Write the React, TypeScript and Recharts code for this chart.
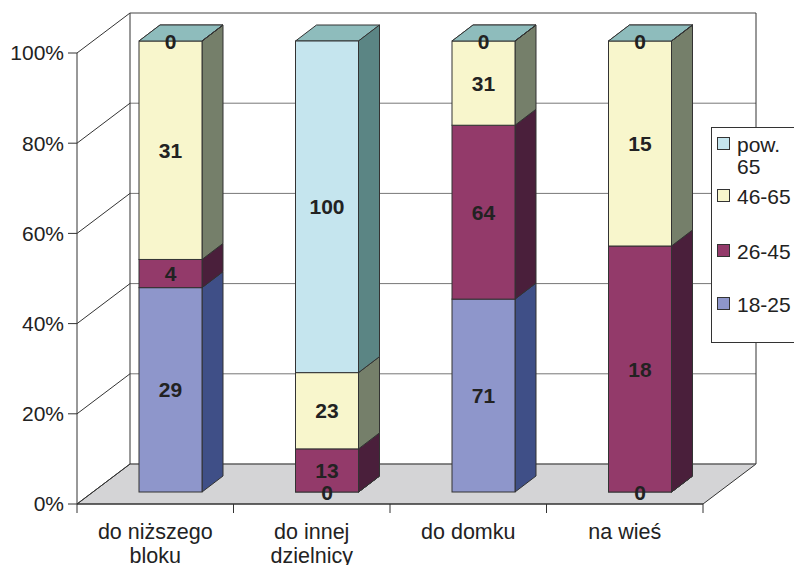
import { BarChart, Bar, XAxis, YAxis, CartesianGrid, LabelList, Legend } from "recharts";

const categories = ["do niższego bloku", "do innej dzielnicy", "do domku", "na wieś"];
const age18to25 = [29, 0, 71, 0];
const age26to45 = [4, 13, 64, 18];
const age46to65 = [31, 23, 31, 15];
const ageOver65 = [0, 100, 0, 0];
const yTicks = [0, 0.2, 0.4, 0.6, 0.8, 1];

const series = [
  { key: "a", name: "18-25", values: age18to25, front: "#8E96CB", side: "#3F4F87", top: "#6A72A8" },
  { key: "b", name: "26-45", values: age26to45, front: "#933A6A", side: "#4A1F3B", top: "#6E2B50" },
  { key: "c", name: "46-65", values: age46to65, front: "#F8F6CC", side: "#757F6A", top: "#C8C7A4" },
  { key: "d", name: "pow. 65", values: ageOver65, front: "#C5E5EE", side: "#5B8584", top: "#8EBCBC" },
];

const data = categories.map((name, i) => {
  const row: Record<string, string | number> = { name };
  series.forEach((s) => (row[s.key] = s.values[i]));
  return row;
});

// layout
const W = 794;
const H = 565;
const PLOT_LEFT = 77;
const PLOT_RIGHT = 703;
const PLOT_TOP = 53;
const PLOT_BOTTOM = 504;
const Y_AXIS_W = 60;
const X_AXIS_H = 30;
const BAND_HALF = (PLOT_RIGHT - PLOT_LEFT) / categories.length / 2;

// 3d depth of the walls and of the bars
const DX = 53;
const DY = 40;
const SX = 15;
const SY = 12;
const BX = 21;
const BY = 16;

const FONT = "'Liberation Sans', Arial, sans-serif";
const INK = "#222";
const EDGE = "#333";

// long category names go on two lines, broken at the last space
const splitLabel = (s: string) => {
  const cut = s.lastIndexOf(" ");
  return s.length > 12 && cut > 0 ? [s.slice(0, cut), s.slice(cut + 1)] : [s];
};

const wallLine = (p: any) => {
  const { x1, x2, y1 } = p;
  const top = typeof p.y === "number" ? p.y : PLOT_TOP;
  const bottom = typeof p.height === "number" ? top + p.height : PLOT_BOTTOM;
  const isFloor = Math.abs(y1 - bottom) < 1;
  const isTop = Math.abs(y1 - top) < 1;
  return (
    <g key={p.key}>
      {isFloor && (
        <polygon
          points={`${x1},${y1} ${x2},${y1} ${x2 + DX},${y1 - DY} ${x1 + DX},${y1 - DY}`}
          fill="#D4D4D6"
          stroke={EDGE}
          strokeWidth={1}
        />
      )}
      {isTop && (
        <g stroke={EDGE} strokeWidth={1}>
          <line x1={x1 + DX} y1={top - DY} x2={x1 + DX} y2={bottom - DY} />
          <line x1={x2 + DX} y1={top - DY} x2={x2 + DX} y2={bottom - DY} />
        </g>
      )}
      <line x1={x1} y1={y1} x2={x1 + DX} y2={y1 - DY} stroke={EDGE} strokeWidth={1} />
      <line
        x1={x1 + DX}
        y1={y1 - DY}
        x2={x2 + DX}
        y2={y1 - DY}
        stroke={isTop ? "#444" : "#777"}
        strokeWidth={1}
      />
    </g>
  );
};

const box3d = (front: string, side: string, top: string) => (p: any) => {
  const { x, y, width: w, height: h } = p;
  if (x == null || y == null) return <g />;
  const fx = x + SX;
  const fy = y - SY;
  return (
    <g stroke={EDGE} strokeWidth={1}>
      <polygon
        points={`${fx},${fy} ${fx + w},${fy} ${fx + w + BX},${fy - BY} ${fx + BX},${fy - BY}`}
        fill={top}
      />
      <polygon
        points={`${fx + w},${fy} ${fx + w + BX},${fy - BY} ${fx + w + BX},${fy + h - BY} ${fx + w},${fy + h}`}
        fill={side}
      />
      <rect x={fx} y={fy} width={w} height={h} fill={front} />
    </g>
  );
};

const valueLabel = (p: any) => {
  const vb = p.viewBox ?? p;
  const { x, y, width, height } = vb;
  if (x == null) return null;
  return (
    <text
      x={x + SX + width / 2}
      y={y - SY + height / 2}
      textAnchor="middle"
      dominantBaseline="central"
      fontFamily={FONT}
      fontSize={21}
      fontWeight="bold"
      fill={INK}
    >
      {p.value}
    </text>
  );
};

const CategoryTick = (p: any) => {
  const { x, y, payload, index } = p;
  const axisY = y - 9 - 11;
  return (
    <g>
      <line x1={x - BAND_HALF} y1={axisY} x2={x - BAND_HALF} y2={axisY + 9} stroke={EDGE} />
      {index === categories.length - 1 && (
        <line x1={x + BAND_HALF} y1={axisY} x2={x + BAND_HALF} y2={axisY + 9} stroke={EDGE} />
      )}
      <text x={x} y={y + 15} textAnchor="middle" fontFamily={FONT} fontSize={21.5} fill={INK}>
        {splitLabel(String(payload.value)).map((line, i) => (
          <tspan key={i} x={x} dy={i === 0 ? 0 : 24}>
            {line}
          </tspan>
        ))}
      </text>
    </g>
  );
};

const legendTops = [10, 62, 117, 170];

const LegendBox = () => (
  <div
    style={{
      position: "relative",
      width: 100,
      height: 216,
      boxSizing: "border-box",
      border: `1px solid ${EDGE}`,
      background: "#fff",
      fontFamily: FONT,
      fontSize: 21,
      lineHeight: "22px",
      color: INK,
    }}
  >
    {[...series].reverse().map((s, i) => (
      <div key={s.key}>
        <div
          style={{
            position: "absolute",
            left: 5,
            top: legendTops[i] - 1,
            width: 13,
            height: 13,
            boxSizing: "border-box",
            border: `1px solid ${EDGE}`,
            background: s.front,
          }}
        />
        <div style={{ position: "absolute", left: 25, top: legendTops[i] - 4, width: 58 }}>{s.name}</div>
      </div>
    ))}
  </div>
);

export default function App() {
  return (
    <div style={{ position: "absolute", left: 0, top: 0, width: W, height: H, overflow: "hidden", background: "#fff" }}>
      <BarChart
        width={W}
        height={H}
        data={data}
        stackOffset="expand"
        margin={{ top: PLOT_TOP, right: W - PLOT_RIGHT, bottom: H - PLOT_BOTTOM - X_AXIS_H, left: PLOT_LEFT - Y_AXIS_W }}
        style={{ fontFamily: FONT }}
      >
        <CartesianGrid vertical={false} horizontal={wallLine} />
        <XAxis
          dataKey="name"
          height={X_AXIS_H}
          axisLine={{ stroke: EDGE }}
          tickLine={false}
          tickSize={9}
          tickMargin={11}
          interval={0}
          tick={<CategoryTick />}
        />
        <YAxis
          width={Y_AXIS_W}
          domain={[0, 1]}
          ticks={yTicks}
          tickFormatter={(v: number) => `${Math.round(v * 100)}%`}
          axisLine={{ stroke: EDGE }}
          tickLine={{ stroke: EDGE }}
          tickSize={9}
          tickMargin={4}
          tick={{ fill: INK, fontSize: 21, fontFamily: FONT }}
        />
        {series.map((s) => (
          <Bar
            key={s.key}
            dataKey={s.key}
            name={s.name}
            stackId="age"
            barSize={63}
            fill={s.front}
            isAnimationActive={false}
            shape={box3d(s.front, s.side, s.top)}
          >
            <LabelList dataKey={s.key} content={valueLabel} />
          </Bar>
        ))}
        <Legend
          layout="vertical"
          align="center"
          verticalAlign="middle"
          wrapperStyle={{ left: 711, top: 127, width: 100, height: 216 }}
          content={() => <LegendBox />}
        />
      </BarChart>
    </div>
  );
}
